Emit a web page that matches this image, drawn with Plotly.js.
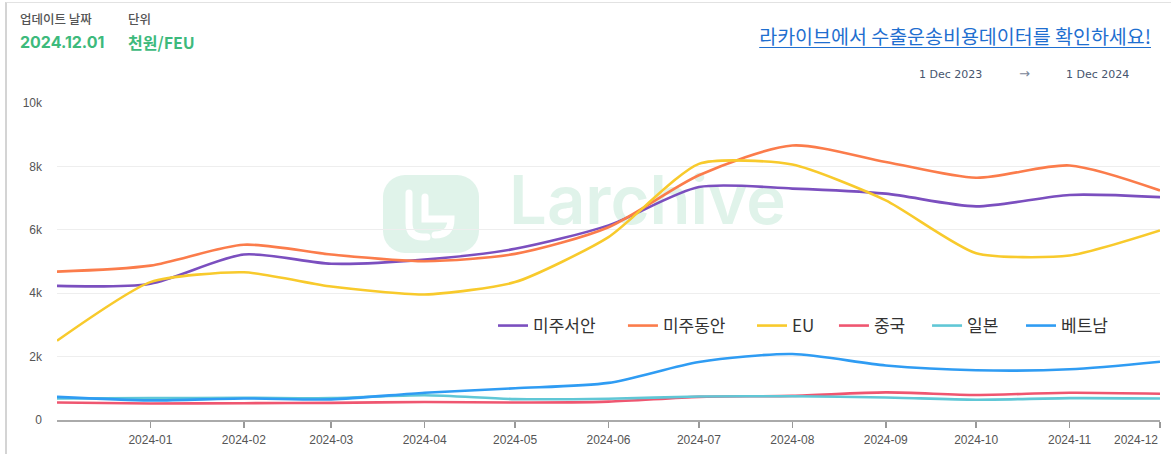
<!DOCTYPE html>
<html>
<head>
<meta charset="utf-8">
<script src="https://cdn.plot.ly/plotly-3.0.1.min.js"></script>
<style>
  html, body { margin: 0; padding: 0; background: #fff; }
  #wrap { position: relative; width: 1171px; height: 454px; overflow: hidden; background: #fff; }
  #frame { position: absolute; left: 5px; top: 2px; width: 1166px; height: 452px; border-left: 2px solid #d4d4d4; border-top: 1px solid #e2e2e2; }
  #wm { position: absolute; left: 0; top: 0; width: 1171px; height: 454px; z-index: 0; }
  #wmBox { position: absolute; left: 383px; top: 175px; width: 96px; height: 78px; border-radius: 22px; background: #e0f3ea; }
  #wmText { position: absolute; left: 509px; top: 166px; font-family: Inter, "Open Sans", sans-serif; font-weight: 600; font-size: 67px; color: #e0f3ea; letter-spacing: 0px; line-height: 1; }
  #chart { position: absolute; left: 0; top: 0; width: 1171px; height: 454px; z-index: 1; }
  .hdr { position: absolute; z-index: 2; white-space: nowrap; }
  .lbl { font-family: "Noto Sans CJK KR", sans-serif; font-size: 12.5px; color: #555; font-weight: 500; top: 9px; }
  .val { font-family: Inter, "Noto Sans CJK KR", sans-serif; font-size: 16px; color: #3dba7c; font-weight: 700; top: 32px; }
  .val2 { font-family: "Noto Sans CJK KR", sans-serif; font-size: 16px; color: #3dba7c; font-weight: 700; top: 30px; }
  #link { left: auto; right: 20px; top: 21px; font-family: "Noto Sans CJK KR", sans-serif; font-size: 19.5px; color: #1f6fd0; text-decoration: underline; text-underline-offset: 3px; }
  .rng { font-family: "DejaVu Sans", sans-serif; font-size: 11px; color: #46556e; top: 68px; }
</style>
</head>
<body>
<div id="wrap">
  <div id="frame"></div>
  <div id="wm">
    <div id="wmBox">
      <svg width="96" height="78" viewBox="0 0 96 78">
        <path d="M26 18 V48 Q26 62 40 62 H44" stroke="#ffffff" stroke-width="7" fill="none" stroke-linecap="round"/>
        <path d="M42 22 V44 H68 Q68 60 52 60" stroke="#ffffff" stroke-width="7" fill="none" stroke-linecap="round"/>
      </svg>
    </div>
    <div id="wmText">Larchive</div>
  </div>
  <div id="chart"></div>
  <div class="hdr lbl" style="left:20px">업데이트 날짜</div>
  <div class="hdr val" style="left:20px">2024.12.01</div>
  <div class="hdr lbl" style="left:128px">단위</div>
  <div class="hdr val2" style="left:128px">천원/FEU</div>
  <div class="hdr" id="link">라카이브에서 수출운송비용데이터를 확인하세요!</div>
  <div class="hdr rng" style="left:919px">1 Dec 2023</div>
  <div class="hdr rng" style="left:1019px; top:66px; font-size:13px; color:#7a8699">→</div>
  <div class="hdr rng" style="left:1066px">1 Dec 2024</div>
</div>
<script>
// ---- data (thousand KRW per FEU) ----
const dates = ['2023-12-01','2024-01-01','2024-02-01','2024-03-01','2024-04-01','2024-05-01','2024-06-01',
               '2024-07-01','2024-08-01','2024-09-01','2024-10-01','2024-11-01','2024-12-01'];
const seriesNames = ['미주서안','미주동안','EU','중국','일본','베트남'];
const usWestCoast = [4230, 4300, 5220, 4930, 5060, 5400, 6140, 7350, 7300, 7140, 6740, 7100, 7030];
const usEastCoast = [4680, 4870, 5530, 5220, 5010, 5240, 6080, 7720, 8660, 8140, 7640, 8030, 7240];
const eu          = [2500, 4350, 4660, 4210, 3960, 4350, 5770, 8080, 8060, 6930, 5260, 5190, 5980];
const china       = [550, 520, 530, 540, 570, 550, 580, 730, 760, 870, 790, 860, 830];
const japan       = [680, 690, 700, 690, 780, 660, 670, 740, 750, 710, 640, 690, 680];
const vietnam     = [730, 620, 680, 650, 860, 1000, 1170, 1830, 2080, 1720, 1570, 1600, 1840];
const tickDates = ['2024-01-01','2024-02-01','2024-03-01','2024-04-01','2024-05-01','2024-06-01',
                   '2024-07-01','2024-08-01','2024-09-01','2024-10-01','2024-11-01','2024-12-01'];
const tickLabels = ['2024-01','2024-02','2024-03','2024-04','2024-05','2024-06',
                    '2024-07','2024-08','2024-09','2024-10','2024-11','2024-12'];

const seriesValues = [usWestCoast, usEastCoast, eu, china, japan, vietnam];
const colors = ['#7b4fbf', '#fb7c4b', '#f8ca2c', '#ef5670', '#60c7d6', '#2f9cf3'];
const smooth = [0.75, 0.75, 0.6, 0.75, 0.75, 0.75];
const legendX = [0.3953, 0.5131, 0.6301, 0.7044, 0.7888, 0.8740];

const traces = seriesValues.map((vals, i) => ({
  type: 'scatter', mode: 'lines', x: dates, y: vals, name: seriesNames[i],
  line: { color: colors[i], width: 2.6, shape: 'spline', smoothing: smooth[i] },
  legend: i === 0 ? 'legend' : 'legend' + (i + 1),
  hoverinfo: 'skip'
}));

const legendFont = { family: '"Noto Sans CJK KR", sans-serif', size: 17, color: '#333' };
const layout = {
  width: 1171, height: 454,
  margin: { l: 57, r: 11, t: 103, b: 34 },
  paper_bgcolor: 'rgba(0,0,0,0)', plot_bgcolor: 'rgba(0,0,0,0)',
  showlegend: true,
  xaxis: {
    type: 'date', range: ['2023-12-01', '2024-12-01'],
    tickvals: tickDates, ticktext: tickLabels.map((t, i) => i === tickLabels.length - 1 ? '' : t),
    ticks: 'outside', ticklen: 6, tickwidth: 1.5, tickcolor: '#999', ticklabelstandoff: 2,
    showline: true, linecolor: '#aaa', linewidth: 2,
    showgrid: false, zeroline: false,
    tickfont: { family: '"Liberation Sans", Arial, sans-serif', size: 12, color: '#555' },
    fixedrange: true
  },
  yaxis: {
    range: [0, 10000], tickvals: [0, 2000, 4000, 6000, 8000, 10000],
    ticktext: ['0', '2k', '4k', '6k', '8k', '10k'],
    showgrid: true, gridcolor: '#eeeeee', gridwidth: 1, zeroline: false,
    showline: false, ticks: '', ticklabelstandoff: 14,
    tickfont: { family: '"Liberation Sans", Arial, sans-serif', size: 12, color: '#555' },
    fixedrange: true
  },
  annotations: [{
    xref: 'x', yref: 'paper', x: '2024-12-01', y: 0, xanchor: 'right', yanchor: 'top',
    yshift: -11, showarrow: false, text: tickLabels[tickLabels.length - 1],
    font: { family: '"Liberation Sans", Arial, sans-serif', size: 12, color: '#555' }
  }]
};
legendX.forEach((lx, i) => {
  const key = i === 0 ? 'legend' : 'legend' + (i + 1);
  layout[key] = { orientation: 'h', x: lx, y: 0.2965, xanchor: 'left', yanchor: 'middle',
                  bgcolor: 'rgba(0,0,0,0)', font: legendFont, itemwidth: 30 };
});

Plotly.newPlot('chart', traces, layout, { displayModeBar: false, staticPlot: true });
</script>
</body>
</html>
